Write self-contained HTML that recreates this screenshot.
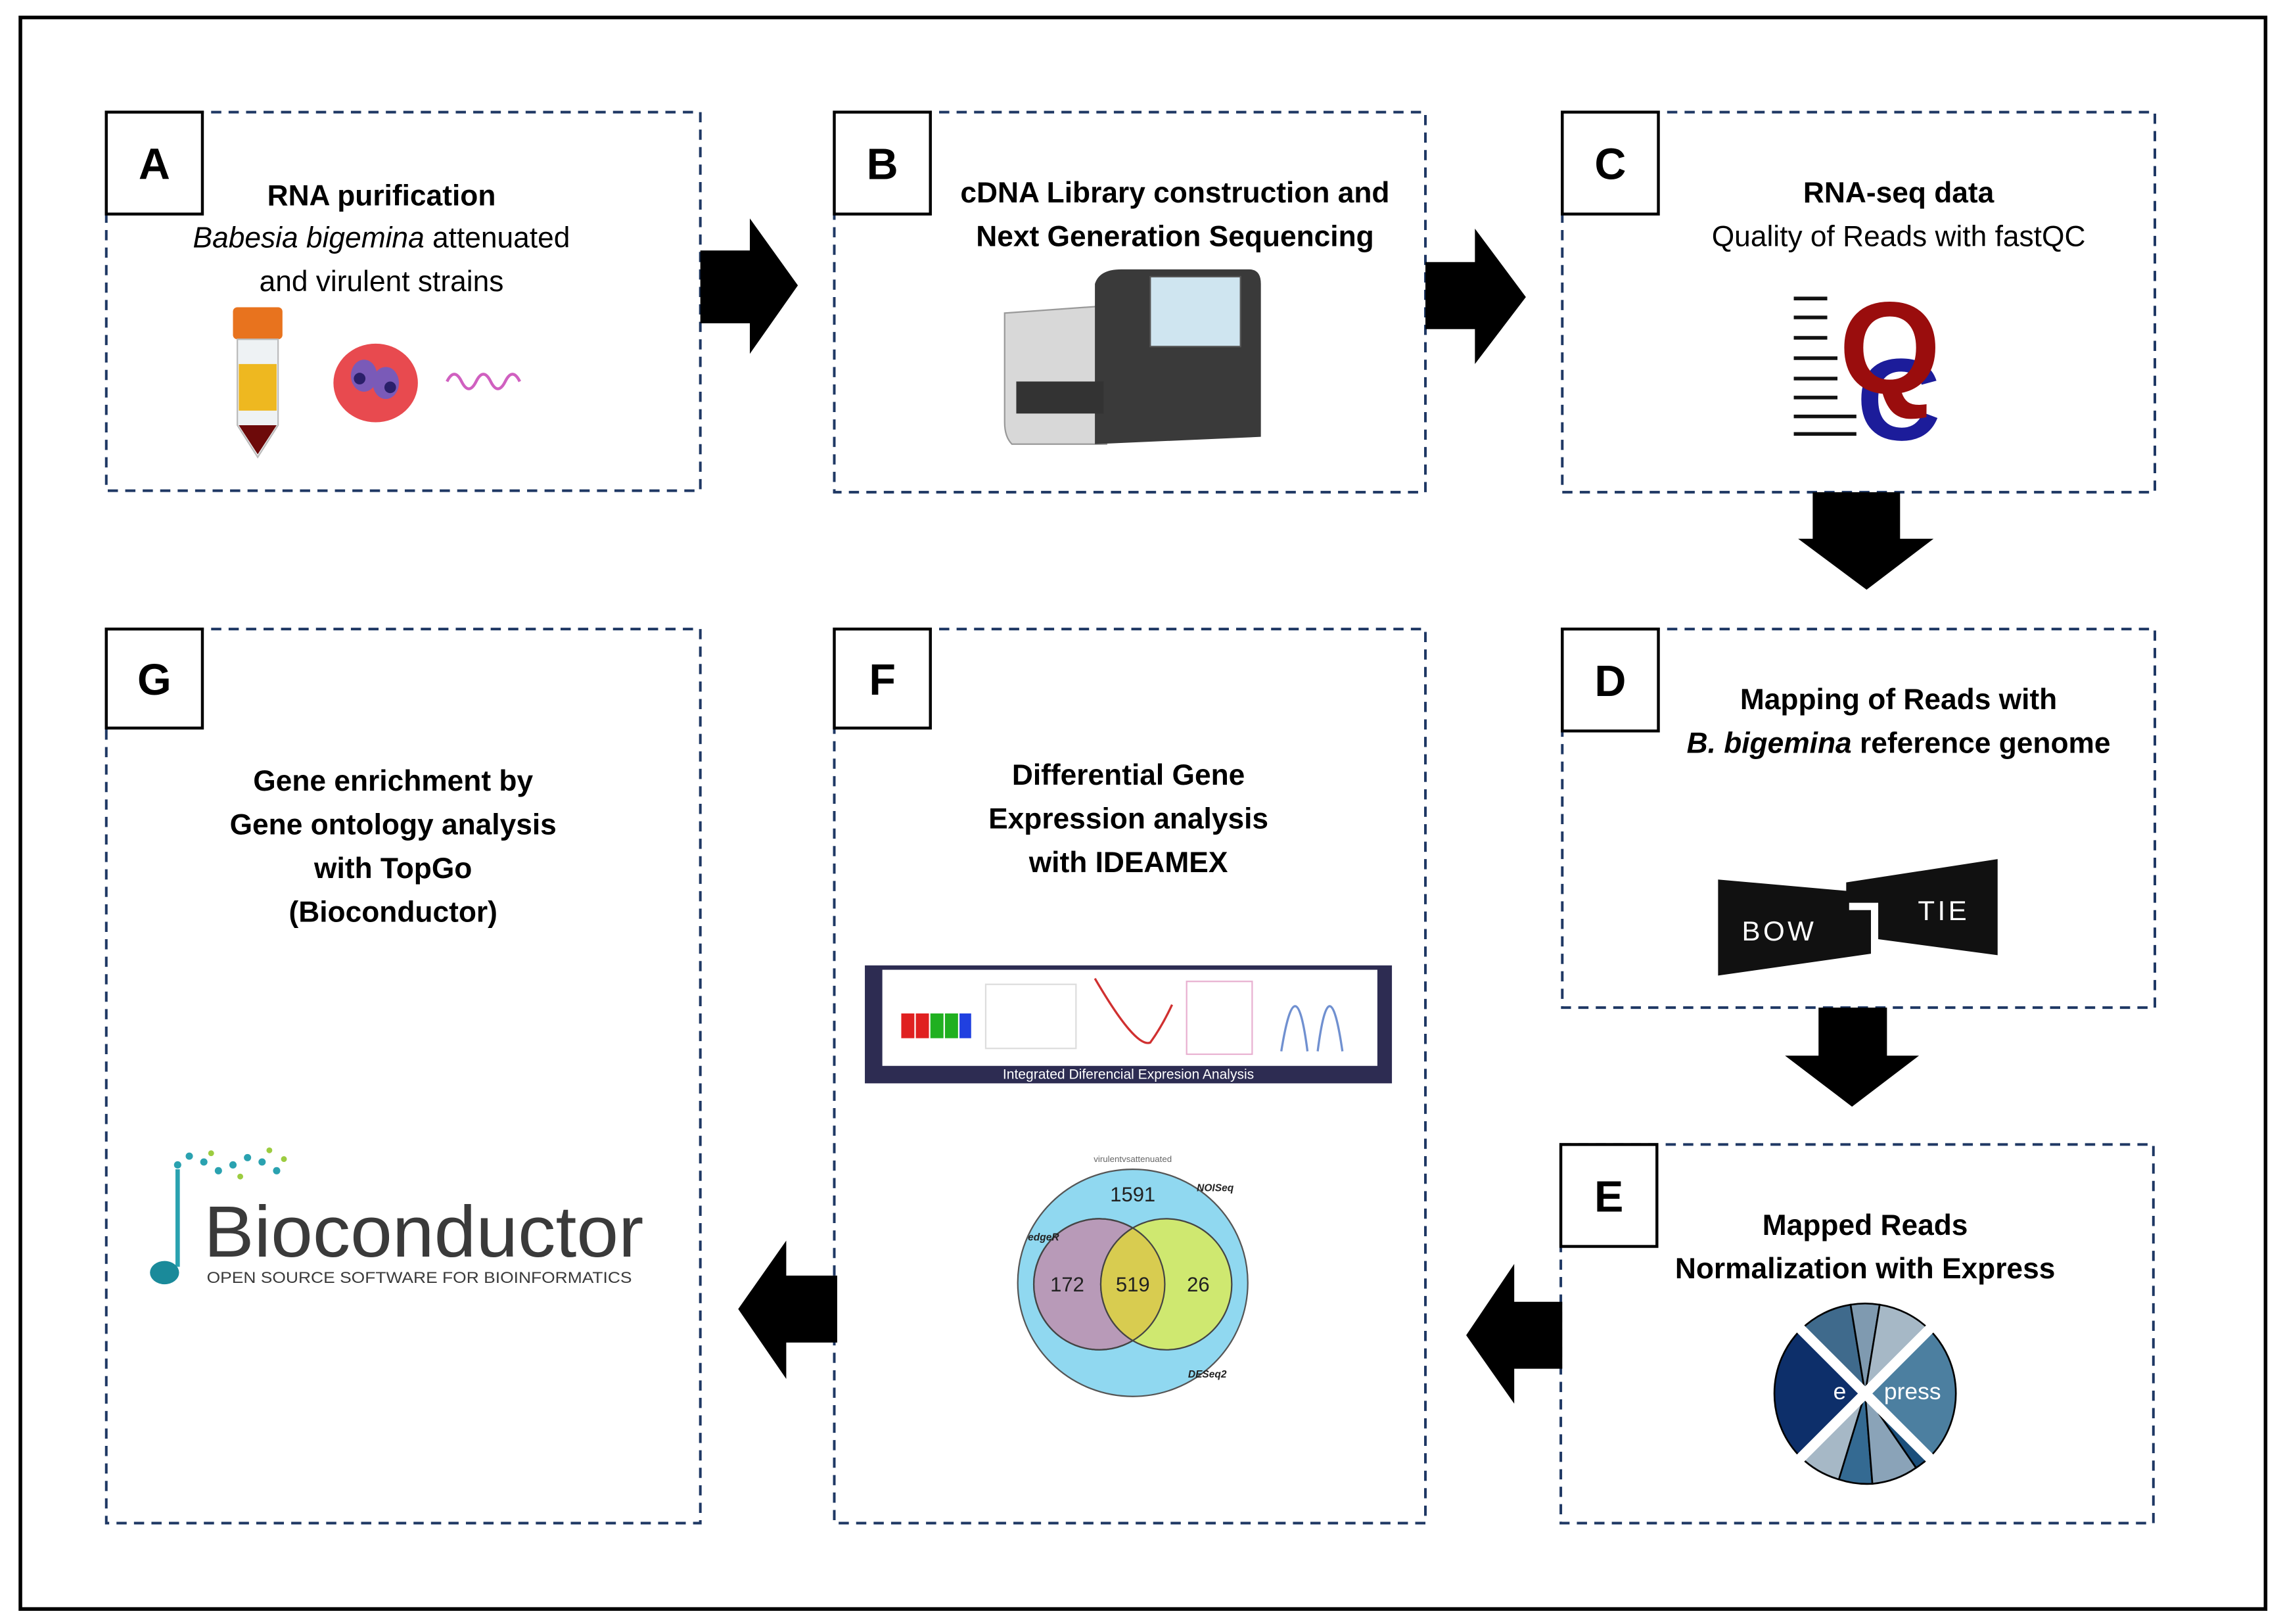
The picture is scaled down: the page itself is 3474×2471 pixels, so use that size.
<!DOCTYPE html>
<html><head><meta charset="utf-8"><style>
html,body{margin:0;padding:0;background:#fff;}
svg{display:block;}
text{font-family:"Liberation Sans",sans-serif;}
</style></head><body>
<svg width="3474" height="2471" viewBox="0 0 1568 1115.3" xmlns="http://www.w3.org/2000/svg">
<defs><clipPath id="lc"><ellipse cx="755" cy="882" rx="45" ry="45"/></clipPath></defs>
<rect x="0" y="0" width="1568" height="1116" fill="#fff"/>
<rect x="14" y="12" width="1542" height="1093" fill="none" stroke="#000" stroke-width="2.5"/>
<g fill="none" stroke="#1f3864" stroke-width="1.8" stroke-dasharray="7,5">
<rect x="73" y="77" width="408" height="260"/>
<rect x="573" y="77" width="406" height="261"/>
<rect x="1073" y="77" width="407" height="261"/>
<rect x="1073" y="432" width="407" height="260"/>
<rect x="1072" y="786" width="407" height="260"/>
<rect x="573" y="432" width="406" height="614"/>
<rect x="73" y="432" width="408" height="614"/>
</g>
<g fill="#fff" stroke="#000" stroke-width="2">
<rect x="73" y="77" width="66" height="70"/>
<rect x="573" y="77" width="66" height="70"/>
<rect x="1073" y="77" width="66" height="70"/>
<rect x="1073" y="432" width="66" height="70"/>
<rect x="1072" y="786" width="66" height="70"/>
<rect x="573" y="432" width="66" height="68"/>
<rect x="73" y="432" width="66" height="68"/>
</g>
<g font-weight="bold" font-size="30" text-anchor="middle" fill="#000">
<text x="106" y="123">A</text><text x="606" y="123">B</text><text x="1106" y="123">C</text>
<text x="1106" y="478">D</text><text x="1105" y="832">E</text><text x="606" y="477">F</text><text x="106" y="477">G</text>
</g>
<g fill="#000">
<polygon points="481,172 515,172 515,150 548,196 515,243 515,222 481,222"/>
<polygon points="979,180 1013,180 1013,157 1048,204 1013,250 1013,226 979,226"/>
<polygon points="1245,338 1305,338 1305,370 1328,370 1282,405 1235,370 1245,370"/>
<polygon points="1249,692 1296,692 1296,725 1318,725 1272,760 1226,725 1249,725"/>
<polygon points="1073,894 1040,894 1040,868 1007,917 1040,964 1040,940 1073,940"/>
<polygon points="575,876 540,876 540,852 507,899 540,947 540,922 575,922"/>
</g>
<g font-size="20" text-anchor="middle" fill="#000">
<text x="262" y="141" font-weight="bold">RNA purification</text>
<text x="262" y="170"><tspan font-style="italic">Babesia bigemina</tspan> attenuated</text>
<text x="262" y="200">and virulent strains</text>
<text x="807" y="139" font-weight="bold">cDNA Library construction and</text>
<text x="807" y="169" font-weight="bold">Next Generation Sequencing</text>
<text x="1304" y="139" font-weight="bold">RNA-seq data</text>
<text x="1304" y="169">Quality of Reads with fastQC</text>
<text x="1304" y="487" font-weight="bold">Mapping of Reads with</text>
<text x="1304" y="517" font-weight="bold"><tspan font-style="italic">B. bigemina</tspan> reference genome</text>
<text x="1281" y="848" font-weight="bold">Mapped Reads</text>
<text x="1281" y="878" font-weight="bold">Normalization with Express</text>
<text x="775" y="539" font-weight="bold">Differential Gene</text>
<text x="775" y="569" font-weight="bold">Expression analysis</text>
<text x="775" y="599" font-weight="bold">with  IDEAMEX</text>
<text x="270" y="543" font-weight="bold">Gene enrichment by</text>
<text x="270" y="573" font-weight="bold">Gene ontology analysis</text>
<text x="270" y="603" font-weight="bold">with TopGo</text>
<text x="270" y="633" font-weight="bold">(Bioconductor)</text>
</g>
<!-- A icons -->
<rect x="160" y="211" width="34" height="22" rx="3" fill="#e8731e"/>
<path d="M163,233 L191,233 L191,292 L177,314 L163,292 Z" fill="#eef2f4" stroke="#bbb"/>
<rect x="164" y="250" width="26" height="32" fill="#eeb820"/>
<path d="M164,292 L190,292 L177,312 Z" fill="#6d0a0a"/>
<ellipse cx="258" cy="263" rx="29" ry="27" fill="#e84a4f"/>
<ellipse cx="250" cy="258" rx="9" ry="11" fill="#7a5ab8"/>
<ellipse cx="265" cy="263" rx="9" ry="11" fill="#7a5ab8"/>
<circle cx="247" cy="260" r="4" fill="#2a1f6a"/><circle cx="268" cy="266" r="4" fill="#2a1f6a"/>
<path d="M307,262 q5,-10 10,0 t10,0 t10,0 t10,0 t10,0" fill="none" stroke="#d060c0" stroke-width="2"/>
<!-- B sequencer -->
<path d="M690,215 L760,210 L760,305 L695,305 Q690,300 690,290 Z" fill="#d8d8d8" stroke="#999"/>
<path d="M752,195 Q755,185 770,185 L858,185 Q866,185 866,195 L866,300 L752,305 Z" fill="#3a3a3a"/>
<rect x="790" y="190" width="62" height="48" fill="#cfe5f0" stroke="#555"/>
<rect x="698" y="262" width="60" height="22" fill="#333"/>
<!-- C QC -->
<g stroke="#111" stroke-width="2.5">
<line x1="1232" y1="205" x2="1255" y2="205"/><line x1="1232" y1="218" x2="1255" y2="218"/>
<line x1="1232" y1="232" x2="1255" y2="232"/><line x1="1232" y1="246" x2="1262" y2="246"/>
<line x1="1232" y1="260" x2="1262" y2="260"/><line x1="1232" y1="273" x2="1262" y2="273"/>
<line x1="1232" y1="286" x2="1275" y2="286"/><line x1="1232" y1="298" x2="1275" y2="298"/>
</g>
<text x="1304" y="302" font-family="Liberation Serif" font-size="80" font-weight="bold" fill="#1c1c9a" text-anchor="middle">C</text>
<text x="1298" y="270" font-family="Liberation Serif" font-size="90" font-weight="bold" fill="#9a0d0d" text-anchor="middle">Q</text>
<!-- D bowtie -->
<polygon points="1180,604 1270,612 1270,625 1285,625 1285,655 1180,670" fill="#111"/>
<polygon points="1268,606 1372,590 1372,656 1290,645 1290,620 1268,620" fill="#111"/>
<text x="1222" y="646" font-size="19" fill="#fff" text-anchor="middle" letter-spacing="2">BOW</text>
<text x="1335" y="632" font-size="19" fill="#fff" text-anchor="middle" letter-spacing="2">TIE</text>
<!-- E express -->
<g transform="translate(1281,957)" stroke="#000" stroke-width="1.2">
<path d="M0,0 L-44,-44 A62,62 0 0 0 -44,44 Z" fill="#0d2f6a"/>
<path d="M0,0 L44,-44 A62,62 0 0 1 44,44 Z" fill="#4c7fa0"/>
<path d="M0,0 L-44,-44 A62,62 0 0 1 -10,-61 Z" fill="#3f6a8c"/>
<path d="M0,0 L-10,-61 A62,62 0 0 1 10,-61 Z" fill="#7f9ab0"/>
<path d="M0,0 L10,-61 A62,62 0 0 1 44,-44 Z" fill="#a6b8c6"/>
<path d="M0,0 L-44,44 A62,62 0 0 0 -18,59 Z" fill="#a6b8c6"/>
<path d="M0,0 L-18,59 A62,62 0 0 0 5,62 Z" fill="#346a92"/>
<path d="M0,0 L5,62 A62,62 0 0 0 35,51 Z" fill="#8aa3b8"/>
<path d="M0,0 L35,51 A62,62 0 0 0 44,44 Z" fill="#1b4f7c"/>
</g>
<g stroke="#fff" stroke-width="7"><line x1="1235" y1="911" x2="1327" y2="1003"/><line x1="1327" y1="911" x2="1235" y2="1003"/></g>
<text x="1268" y="961" font-size="16" fill="#fff" text-anchor="end">e</text>
<text x="1294" y="961" font-size="16" fill="#fff">press</text>
<!-- F IDEAMEX banner -->
<rect x="594" y="663" width="362" height="81" fill="#2d2c52"/>
<rect x="606" y="666" width="340" height="66" fill="#fff"/>
<rect x="619" y="696" width="9" height="17" fill="#e02020"/><rect x="629" y="696" width="9" height="17" fill="#e02020"/>
<rect x="639" y="696" width="9" height="17" fill="#20b020"/><rect x="649" y="696" width="9" height="17" fill="#20b020"/>
<rect x="659" y="696" width="8" height="17" fill="#2040e0"/>
<rect x="677" y="676" width="62" height="44" fill="none" stroke="#ddd"/>
<path d="M752,672 Q780,720 790,716 Q798,705 805,690" fill="none" stroke="#d03030" stroke-width="1.5"/>
<path d="M815,674 L860,674 L860,724 L815,724 Z" fill="none" stroke="#e8b0d0"/>
<path d="M880,722 Q890,660 898,722 M905,722 Q913,660 922,722" fill="none" stroke="#7090d0" stroke-width="1.5"/>
<text x="775" y="741" font-family="Liberation Mono" font-size="9.5" fill="#fff" text-anchor="middle">Integrated Diferencial Expresion Analysis</text>
<!-- Venn -->
<text x="778" y="798" font-size="6" fill="#666" text-anchor="middle">virulentvsattenuated</text>
<ellipse cx="778" cy="881" rx="79" ry="78" fill="#90d8f0" stroke="#555"/>
<ellipse cx="755" cy="882" rx="45" ry="45" fill="#b89ab8" stroke="#444"/>
<ellipse cx="801" cy="882" rx="45" ry="45" fill="#cfe870" stroke="#444"/>
<ellipse cx="801" cy="882" rx="45" ry="45" fill="#d8cc50" stroke="#444" clip-path="url(#lc)"/>
<ellipse cx="755" cy="882" rx="45" ry="45" fill="none" stroke="#444"/>
<g font-family="Liberation Serif" font-size="14" text-anchor="middle" fill="#222">
<text x="778" y="825">1591</text><text x="733" y="887">172</text><text x="778" y="887">519</text><text x="823" y="887">26</text>
</g>
<g font-family="Liberation Serif" font-size="7" font-style="italic" font-weight="bold" fill="#222">
<text x="822" y="818">NOISeq</text><text x="706" y="852">edgeR</text><text x="816" y="946">DESeq2</text>
</g>
<!-- G Bioconductor -->
<g fill="#2aa2b0">
<circle cx="122" cy="800" r="2.5"/><circle cx="130" cy="794" r="2.5"/><circle cx="140" cy="798" r="2.5"/><circle cx="150" cy="804" r="2.5"/>
<circle cx="160" cy="800" r="2.5"/><circle cx="170" cy="795" r="2.5"/><circle cx="180" cy="798" r="2.5"/><circle cx="190" cy="804" r="2.5"/>
<circle cx="145" cy="792" r="2" fill="#9ccc40"/><circle cx="165" cy="808" r="2" fill="#9ccc40"/><circle cx="185" cy="790" r="2" fill="#9ccc40"/><circle cx="195" cy="796" r="2" fill="#9ccc40"/>
</g>
<path d="M122,803 L122,870" stroke="#2aa2b0" stroke-width="3"/>
<ellipse cx="113" cy="874" rx="10" ry="8" fill="#1a8a9a"/>
<text x="140" y="863" font-size="50" fill="#3a3a3a" textLength="302" lengthAdjust="spacingAndGlyphs">Bioconductor</text>
<text x="142" y="881" font-size="11" fill="#3a3a3a" textLength="292" lengthAdjust="spacingAndGlyphs">OPEN SOURCE SOFTWARE FOR BIOINFORMATICS</text>
</svg>
</body></html>
